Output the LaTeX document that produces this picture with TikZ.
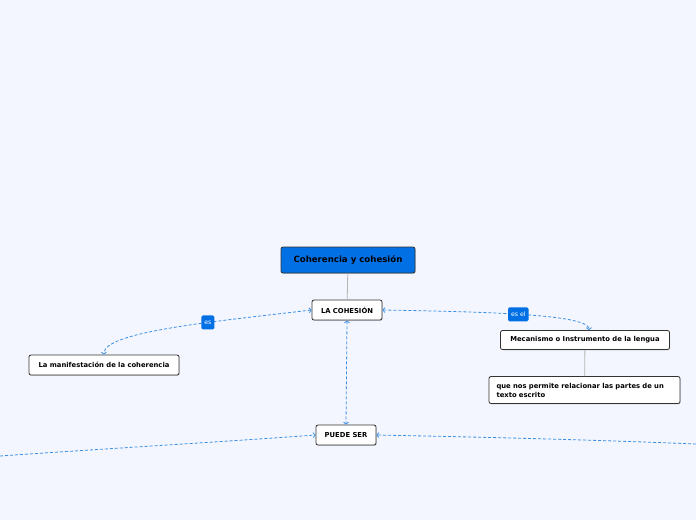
\documentclass[tikz,border=0pt]{standalone}
\usepackage{fontspec}
\setmainfont{DejaVu Sans}
\usepackage{tikz}
\usetikzlibrary{arrows.meta,positioning,shadows}

\definecolor{bgpaper}{HTML}{F3F6FE}
\definecolor{mapblue}{HTML}{0070E4}
\definecolor{linkblue}{HTML}{3D8FE3}
\definecolor{stemgray}{HTML}{B4B4B4}

\tikzset{
    topic/.style={draw=black!80,line width=0.8pt,rounded corners=2pt,fill=mapblue,
        minimum height=26pt,inner xsep=6pt,font=\fontsize{8.6}{10}\selectfont\bfseries,
        drop shadow={shadow xshift=0.6pt,shadow yshift=-0.8pt,opacity=0.35}},
    idea/.style={draw=black!80,line width=0.8pt,rounded corners=2pt,fill=white,
        minimum height=20pt,inner xsep=6pt,font=\fontsize{6.8}{9}\selectfont\bfseries,
        drop shadow={shadow xshift=0.6pt,shadow yshift=-0.8pt,opacity=0.35}},
    tag/.style={fill=mapblue,text=white,rounded corners=1.5pt,inner xsep=3pt,
        minimum height=14pt,font=\fontsize{6.2}{7}\selectfont},
    stem/.style={draw=stemgray,line width=0.8pt},
    link/.style={draw=linkblue,line width=0.8pt,dash pattern=on 3pt off 2pt},
    both/.style={{Straight Barb[length=2pt,width=5pt]}-{Straight Barb[length=2pt,width=5pt]}},
    tohead/.style={-{Straight Barb[length=2pt,width=5pt]}}
}

\begin{document}
\begin{tikzpicture}[x=1pt,y=-1pt]
    % Paper
    \fill[bgpaper] (0,0) rectangle (696,520);
    \useasboundingbox (0,0) rectangle (696,520);

    % Nodes
    \node[topic,minimum width=134pt] (root) at (348,260) {Coherencia y cohesión};
    \node[idea,minimum width=70pt] (cohesion) at (347,310) {LA COHESIÓN};
    \node[idea,minimum width=150pt] (manif) at (104,365) {La manifestación de la coherencia};
    \node[idea,minimum width=169pt,minimum height=19pt] (mecan) at (585,340) {Mecanismo o Instrumento de la lengua};
    \node[idea,text width=176pt,inner xsep=7.5pt,minimum height=27pt,align=left] (permite) at (584.5,390)
        {que nos permite relacionar las partes de un texto escrito};
    \node[idea,minimum width=60pt] (puede) at (346,435) {PUEDE SER};

    % Free ends
    \coordinate (offleft) at (0,456);
    \coordinate (offright) at (696,444);

    % Stems
    \draw[stem] (root) -- (cohesion);
    \draw[stem] (mecan) -- (permite);

    % Links
    \draw[link,both] (cohesion.west) .. controls (210,322) and (103,332) .. (manif.north)
        node[tag,pos=0.35] (es) {es};
    \draw[link,both] (cohesion.east) .. controls (500,312) and (589,315) .. (mecan.north -| 589,0)
        node[tag,pos=0.45] (esel) {es el};
    \draw[link,both] (cohesion.south) -- (puede.north);
    \draw[link,tohead] (offleft) .. controls (100,449) and (220,442) .. (puede.west);
    \draw[link,tohead] (offright) .. controls (600,440) and (480,437) .. (puede.east);
\end{tikzpicture}
\end{document}
